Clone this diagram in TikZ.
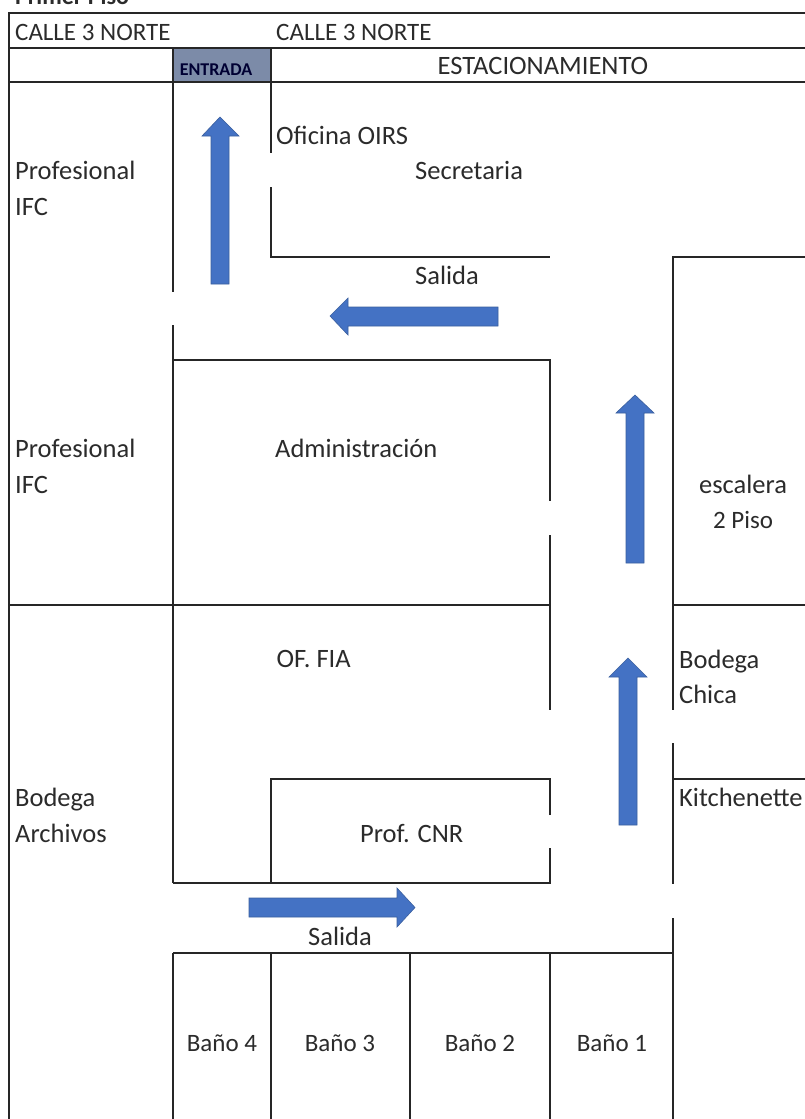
\documentclass[tikz,border=0pt]{standalone}
\usepackage{fontspec}
\setmainfont{Carlito}
\definecolor{wallc}{HTML}{262626}
\definecolor{txtc}{HTML}{2B2B2B}
\definecolor{arrowc}{HTML}{4472C4}
\definecolor{arrowe}{HTML}{3A5F9E}
\definecolor{entc}{HTML}{7C8BA8}
\tikzset{
  wall/.style={draw=wallc,line width=1.1pt},
  flow/.style={fill=arrowc,draw=arrowe,line width=0.6pt,line join=miter},
  lab/.style={inner sep=0pt,anchor=base west,text=txtc,font=\fontsize{26.5}{26.5}\selectfont},
  labc/.style={lab,anchor=base},
  labn/.style={font=\fontsize{25}{25}\selectfont},
}
\begin{document}
\begin{tikzpicture}[x=1pt,y=-1pt]
\useasboundingbox (0,0) rectangle (805,1119);
\fill[white] (0,0) rectangle (805,1119);
\fill[entc] (173,48) rectangle (271,82);
% outer frame and street rows
\draw[wall] (9,1119) -- (9,13) -- (805,13);
\draw[wall] (9,48) -- (805,48);
\draw[wall] (9,82) -- (805,82);
% entrance corridor
\draw[wall] (173,48) -- (173,292);
\draw[wall] (173,325) -- (173,360);
\draw[wall] (271,48) -- (271,153);
\draw[wall] (271,187) -- (271,257) -- (550,257);
% central block
\draw[wall] (173,360) -- (550,360) -- (550,501);
\draw[wall] (173,360) -- (173,883);
\draw[wall] (550,535) -- (550,710);
\draw[wall] (9,605) -- (550,605);
\draw[wall] (550,815) -- (550,779) -- (271,779) -- (271,883);
\draw[wall] (550,848) -- (550,883) -- (173,883);
% right rooms
\draw[wall] (805,257) -- (673,257) -- (673,710);
\draw[wall] (673,605) -- (805,605);
\draw[wall] (673,743) -- (673,884);
\draw[wall] (673,779) -- (805,779);
\draw[wall] (673,918) -- (673,1119);
% bathrooms
\draw[wall] (173,953) -- (673,953);
\draw[wall] (173,953) -- (173,1119);
\draw[wall] (271,953) -- (271,1119);
\draw[wall] (410,953) -- (410,1119);
\draw[wall] (550,953) -- (550,1119);
% arrows
\draw[flow] (220,117) -- (239,136) -- (229,136) -- (229,284) -- (211,284) -- (211,136) -- (202,136) -- cycle;
\draw[flow] (330,316) -- (348,298) -- (348,307) -- (498,307) -- (498,326) -- (348,326) -- (348,335) -- cycle;
\draw[flow] (635,395) -- (654,413) -- (644,413) -- (644,563) -- (626,563) -- (626,413) -- (616,413) -- cycle;
\draw[flow] (628,658) -- (647,677) -- (637,677) -- (637,825) -- (619,825) -- (619,677) -- (609,677) -- cycle;
\draw[flow] (415,907.5) -- (397,888) -- (397,898) -- (249,898) -- (249,917) -- (397,917) -- (397,927) -- cycle;
% labels
\node[lab,font=\fontsize{24}{24}\selectfont\bfseries] (title) at (15,4) {Primer Piso};
\node[lab,labn] (c1) at (15,40) {CALLE 3 NORTE};
\node[lab,labn] (c2) at (276,40) {CALLE 3 NORTE};
\node[labc,font=\fontsize{18}{18}\selectfont\bfseries,text=black!80!blue] (ent) at (216,75) {ENTRADA};
\node[labc] (est) at (543,74) {ESTACIONAMIENTO};
\node[lab] (oirs) at (276,144) {Oficina OIRS};
\node[lab] (sec) at (415,179) {Secretaria};
\node[lab] (p1) at (15,179) {Profesional};
\node[lab] (i1) at (15,215) {IFC};
\node[lab] (s1) at (415,284) {Salida};
\node[lab] (p2) at (15,457) {Profesional};
\node[lab] (i2) at (15,493) {IFC};
\node[lab] (adm) at (275,457) {Administración};
\node[labc] (esc) at (743,493) {escalera};
\node[labc,labn] (pis) at (743,528) {2 Piso};
\node[lab] (fia) at (276.5,667) {OF. FIA};
\node[lab] (bc1) at (679,668) {Bodega};
\node[lab] (bc2) at (679,703) {Chica};
\node[lab] (ba1) at (15,806) {Bodega};
\node[lab] (ba2) at (15,842) {Archivos};
\node[lab] (kit) at (679,806) {Kitchenette};
\node[lab] (cnr) at (360,842) {Prof. CNR};
\node[lab] (s2) at (308,945) {Salida};
\node[labc,labn] (b4) at (222,1051) {Baño 4};
\node[labc,labn] (b3) at (340,1051) {Baño 3};
\node[labc,labn] (b2) at (480,1051) {Baño 2};
\node[labc,labn] (b1) at (612,1051) {Baño 1};
\end{tikzpicture}
\end{document}
